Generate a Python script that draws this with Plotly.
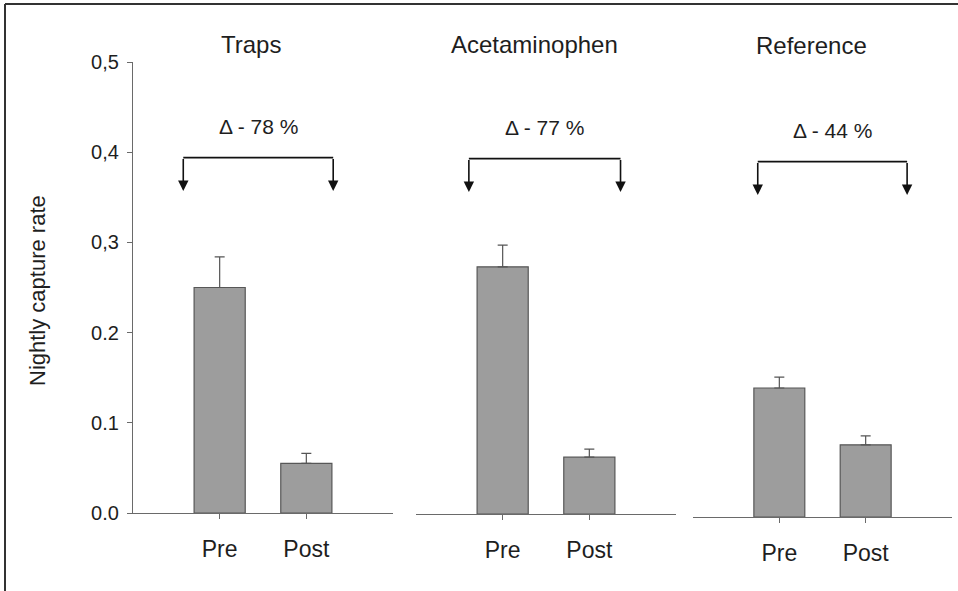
import plotly.graph_objects as go

# ---- data ----
groups = ["Traps", "Acetaminophen", "Reference"]
periods = ["Pre", "Post"]
pre_values = [0.250, 0.274, 0.143]
post_values = [0.055, 0.063, 0.080]
pre_errors = [0.034, 0.024, 0.012]
post_errors = [0.011, 0.009, 0.010]
delta_labels = ["\u0394 - 78 %", "\u0394 - 77 %", "\u0394 - 44 %"]
y_tickvals = [0.0, 0.1, 0.2, 0.3, 0.4, 0.5]
y_ticktext = ["0.0", "0.1", "0.2", "0,3", "0,4", "0,5"]
y_title = "Nightly capture rate"

# ---- layout constants (pixel-derived, for a 958x591 canvas) ----
W, H = 958, 591
x_domains = [(133, 393), (416, 676), (693, 952)]   # px
baselines = [513, 514, 517]                          # px for y=0
px_per_unit = 902.0                                  # px per 1.0 of y
bracket_x = [(-0.42, 1.31), (-0.39, 1.36), (-0.25, 1.48)]
bracket_top, bracket_tip, delta_y = 0.394, 0.357, 0.428
title_pos = [(251, 44), (534, 44), (811, 46)]

FONT = "Liberation Sans, Arial, sans-serif"
TXT = "#1e1e1e"
AX = "#6a6a6a"

fig = go.Figure()
layout_axes = {}
annotations = []
shapes = []

for i, g in enumerate(groups):
    n = i + 1
    xa = "x" if n == 1 else f"x{n}"
    ya = "y" if n == 1 else f"y{n}"
    xkey = "xaxis" if n == 1 else f"xaxis{n}"
    ykey = "yaxis" if n == 1 else f"yaxis{n}"
    x0, x1 = x_domains[i]
    base = baselines[i]
    top = base - 0.5 * px_per_unit
    fig.add_trace(go.Bar(
        x=periods, y=[pre_values[i], post_values[i]],
        xaxis=xa, yaxis=ya, width=0.59,
        marker=dict(color="#9d9d9d", line=dict(color="#575757", width=1.2)),
        error_y=dict(type="data", array=[pre_errors[i], post_errors[i]],
                     arrayminus=[0, 0], symmetric=False,
                     color="#555555", thickness=1.2, width=5),
        showlegend=False, hoverinfo="skip",
    ))
    layout_axes[xkey] = dict(
        domain=[x0 / W, x1 / W], anchor=ya, type="category",
        categoryorder="array", categoryarray=periods, range=[-1, 2],
        showline=True, linecolor=AX, linewidth=1.3, ticks="outside",
        ticklen=5, tickcolor=AX, showgrid=False, zeroline=False,
        tickfont=dict(family=FONT, size=23, color=TXT),
        ticklabelstandoff=10, fixedrange=True,
    )
    yax = dict(
        domain=[1 - base / H, 1 - top / H], anchor=xa, range=[0, 0.5],
        showgrid=False, zeroline=False, fixedrange=True,
    )
    if n == 1:
        yax.update(showline=True, linecolor=AX, linewidth=1.3, ticks="outside",
                   ticklen=5, tickcolor=AX, tickvals=y_tickvals,
                   ticktext=y_ticktext, ticklabelstandoff=4,
                   tickfont=dict(family=FONT, size=20, color=TXT))
    else:
        yax.update(showline=False, showticklabels=False, ticks="")
    layout_axes[ykey] = yax

    # bracket
    bl, br = bracket_x[i]
    shapes.append(dict(type="line", xref=xa, yref=ya, x0=bl, x1=br,
                       y0=bracket_top, y1=bracket_top,
                       line=dict(color="#111111", width=1.6)))
    for bx in (bl, br):
        annotations.append(dict(x=bx, y=bracket_tip, ax=bx, ay=bracket_top,
                                xref=xa, yref=ya, axref=xa, ayref=ya,
                                text="", showarrow=True, arrowhead=2,
                                arrowsize=1.3, arrowwidth=1.6,
                                arrowcolor="#111111"))
    annotations.append(dict(x=(bl + br) / 2, y=delta_y, xref=xa, yref=ya,
                            xanchor="center", yanchor="middle",
                            text=delta_labels[i], showarrow=False,
                            font=dict(family=FONT, size=21, color=TXT)))
    tx, ty = title_pos[i]
    annotations.append(dict(x=tx / W, y=1 - ty / H, xref="paper", yref="paper",
                            xanchor="center", yanchor="middle",
                            text=g, showarrow=False,
                            font=dict(family=FONT, size=24, color=TXT)))

annotations.append(dict(x=37 / W, y=1 - 291 / H, xref="paper", yref="paper",
                        xanchor="center", yanchor="middle",
                        text=y_title, textangle=-90, showarrow=False,
                        font=dict(family=FONT, size=22, color=TXT)))

# scanned frame (top and left edges)
shapes.append(dict(type="line", xref="paper", yref="paper", x0=5 / W, x1=1,
                   y0=1 - 4 / H, y1=1 - 4 / H, line=dict(color="#333333", width=2)))
shapes.append(dict(type="line", xref="paper", yref="paper", x0=5 / W, x1=5 / W,
                   y0=0, y1=1 - 4 / H, line=dict(color="#333333", width=2)))

fig.update_layout(
    width=W, height=H, margin=dict(l=0, r=0, t=0, b=0, autoexpand=False),
    paper_bgcolor="white", plot_bgcolor="rgba(0,0,0,0)",
    annotations=annotations, shapes=shapes, bargap=0.4,
    **layout_axes,
)
fig.write_html("out.html", config={"displayModeBar": False},
               post_script="document.body.style.margin='0';document.body.style.overflow='hidden';")
